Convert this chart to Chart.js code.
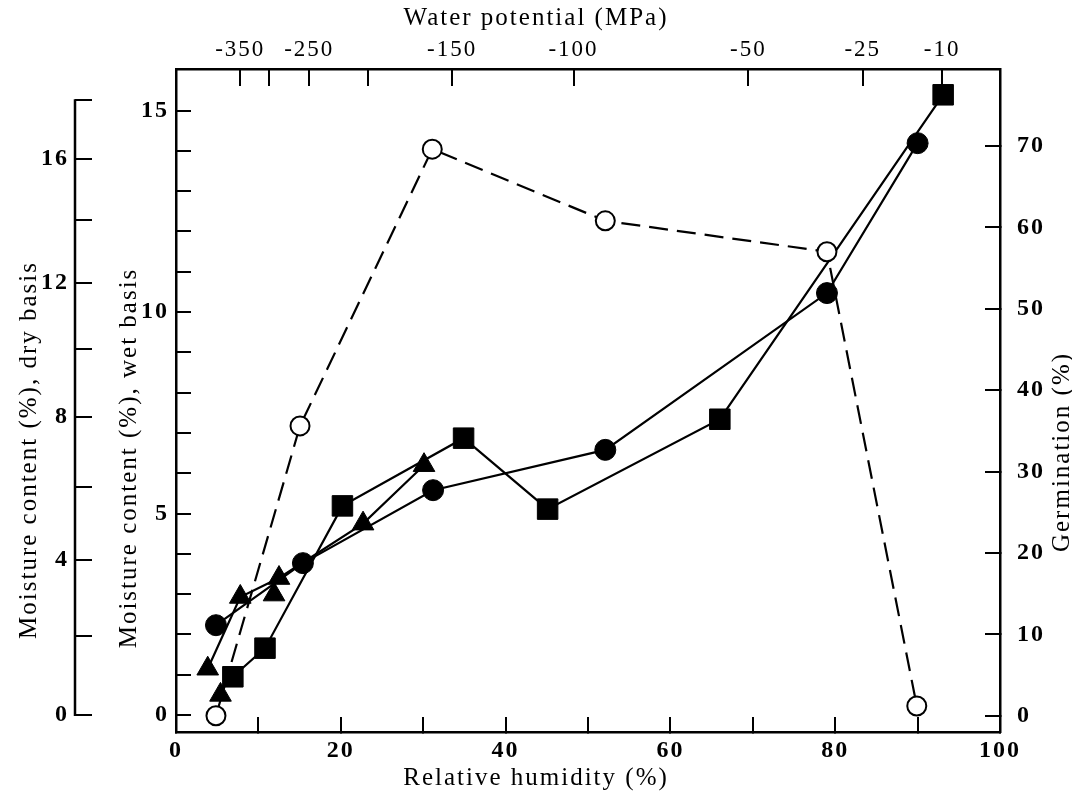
<!DOCTYPE html>
<html>
<head>
<meta charset="utf-8">
<title>Moisture content and germination vs relative humidity</title>
<script src="https://cdn.jsdelivr.net/npm/chart.js@4.4.1/dist/chart.umd.min.js"></script>
<style>
  html, body { margin: 0; padding: 0; background: #fff; }
  canvas { display: block; }
</style>
</head>
<body>
<canvas id="chart" width="1072" height="794"></canvas>
<script>
// values
const germinationRH = [4.85, 15.05, 31.1, 52.1, 79.0, 89.9];
const germinationPct = [0, 35.6, 69.6, 60.8, 57.0, 1.2];

const circleRH = [4.85, 15.4, 31.2, 52.1, 79.0, 90.0];
const circleWet = [2.23, 3.77, 5.58, 6.58, 10.47, 14.19];

const squareRH = [6.9, 10.8, 20.2, 34.9, 45.1, 66.0, 93.1];
const squareWet = [0.95, 1.66, 5.19, 6.87, 5.11, 7.34, 15.39];

const triangleRH = [3.85, 7.8, 12.5, 22.7, 30.1];
const triangleWet = [1.15, 2.93, 3.40, 4.75, 6.20];

const looseTriangleRH = [5.4, 11.9];
const looseTriangleWet = [0.50, 2.99];

// axis ticks
const humidityTicks = [0, 10, 20, 30, 40, 50, 60, 70, 80, 90, 100];
const wetTicks = [0, 1, 2, 3, 4, 5, 6, 7, 8, 9, 10, 11, 12, 13, 14, 15];
const dryTicks = [0, 2, 4, 6, 8, 10, 12, 14, 16, 18];
const germinationTicks = [0, 10, 20, 30, 40, 50, 60, 70];
const potentialTicks = [-350, -300, -250, -200, -150, -100, -50, -25, -10];
const potentialLabels = ['-350', '', '-250', '', '-150', '-100', '-50', '-25', '-10'];

const WET_MIN = -0.42;
const WET_MAX = 16.03;
const GERM_MIN = -2.0;
const GERM_MAX = 79.45;

const SERIF = '"Liberation Serif", "DejaVu Serif", serif';
const tickFont = { family: SERIF, size: 24, weight: 'bold' };
const topTickFont = { family: SERIF, size: 23, weight: 'normal' };
const titleFont = { family: SERIF, size: 25, weight: 'normal' };

const verticalTitles = [
  { text: 'Moisture content (%), dry basis', x: 29, y: 450 },
  { text: 'Moisture content (%), wet basis', x: 129, y: 458 },
  { text: 'Germination (%)', x: 1062, y: 452 },
];

// dry basis marks sit on the wet basis scale
function dryToWet(d) {
  return 100 * d / (100 + d);
}

// water potential (MPa) to relative humidity (%), Kelvin equation at ~25 C
function potentialToRH(p) {
  return 100 * Math.exp(p / 137.2);
}

function points(xs, ys) {
  return xs.map((x, i) => ({ x, y: ys[i] }));
}

function setTicks(values) {
  return scale => {
    scale.ticks = values.map(value => ({ value }));
  };
}

function grid(tickLength) {
  return { drawOnChartArea: false, drawTicks: true, tickLength, color: '#000', lineWidth: 2 };
}

const border = { display: true, color: '#000', width: 2.5 };

const spacing = {
  id: 'spacing',
  beforeLayout(chart) { chart.ctx.letterSpacing = '2px'; },
  beforeDraw(chart) { chart.ctx.letterSpacing = '2px'; },
};

const extras = {
  id: 'extras',
  afterDraw(chart) {
    const ctx = chart.ctx;
    const dry = chart.scales.yDry;
    ctx.save();
    ctx.strokeStyle = '#000';
    ctx.lineWidth = 2.5;
    ctx.beginPath();
    ctx.moveTo(dry.right, dry.getPixelForValue(dryToWet(dryTicks[0])) + 1);
    ctx.lineTo(dry.right, dry.getPixelForValue(dryToWet(dryTicks[dryTicks.length - 1])) - 1);
    ctx.stroke();

    ctx.fillStyle = '#000';
    ctx.font = `${titleFont.size}px ${SERIF}`;
    ctx.letterSpacing = '2px';
    ctx.textAlign = 'center';
    ctx.textBaseline = 'middle';
    verticalTitles.forEach(t => {
      ctx.save();
      ctx.translate(t.x, t.y);
      ctx.rotate(-Math.PI / 2);
      ctx.fillText(t.text, 0, 0);
      ctx.restore();
    });
    ctx.restore();
  },
};

const lineStyle = { showLine: true, borderColor: '#000', borderWidth: 2.2, pointBorderColor: '#000', pointBackgroundColor: '#000', pointBorderWidth: 1, xAxisID: 'x' };

new Chart(document.getElementById('chart'), {
  type: 'scatter',
  data: {
    datasets: [
      {
        ...lineStyle,
        label: 'Germination',
        data: points(germinationRH, germinationPct),
        yAxisID: 'yGerm',
        borderDash: [19, 9],
        pointStyle: 'circle',
        pointRadius: 9.5,
        pointBorderWidth: 2,
        pointBackgroundColor: '#fff',
      },
      { ...lineStyle, label: 'Circles', data: points(circleRH, circleWet), yAxisID: 'yWet', pointStyle: 'circle', pointRadius: 10.5 },
      { ...lineStyle, label: 'Squares', data: points(squareRH, squareWet), yAxisID: 'yWet', pointStyle: 'rect', pointRadius: 14.5 },
      { ...lineStyle, label: 'Triangles', data: points(triangleRH, triangleWet), yAxisID: 'yWet', pointStyle: 'triangle', pointRadius: 12.5 },
      { ...lineStyle, showLine: false, label: 'Triangles (single)', data: points(looseTriangleRH, looseTriangleWet), yAxisID: 'yWet', pointStyle: 'triangle', pointRadius: 12.5 },
    ],
  },
  options: {
    responsive: false,
    animation: false,
    devicePixelRatio: 1,
    layout: { padding: 0 },
    plugins: {
      legend: { display: false },
      tooltip: { enabled: false },
      title: { display: true, text: 'Water potential (MPa)', color: '#000', font: titleFont, padding: { top: 3, bottom: 0 } },
      subtitle: { display: true, position: 'bottom', text: 'Relative humidity (%)', color: '#000', font: titleFont, padding: { top: 0, bottom: 1 } },
    },
    scales: {
      x: {
        type: 'linear', position: 'bottom', min: 0, max: 100, bounds: 'data',
        afterBuildTicks: setTicks(humidityTicks),
        afterFit: s => { s.height = 31; },
        ticks: { autoSkip: false, maxRotation: 0, padding: 19, color: '#000', font: tickFont, callback: v => (v % 20 === 0 ? String(v) : '') },
        grid: grid(-15),
        border,
      },
      xTop: {
        type: 'linear', position: 'top', min: 0, max: 100, bounds: 'data',
        afterBuildTicks: scale => { scale.ticks = potentialTicks.map(p => ({ value: potentialToRH(p) })); },
        afterFit: s => { s.height = 36; },
        ticks: { autoSkip: false, maxRotation: 0, padding: 22, color: '#000', font: topTickFont, callback: (v, i) => potentialLabels[i] },
        grid: grid(-17),
        border,
      },
      yDry: {
        type: 'linear', position: 'left', weight: 10, min: WET_MIN, max: WET_MAX, bounds: 'data',
        afterBuildTicks: scale => { scale.ticks = dryTicks.map(d => ({ value: dryToWet(d) })); },
        afterFit: s => { s.width = 75; },
        ticks: { autoSkip: false, padding: 23, color: '#000', font: tickFont, callback: (v, i) => (dryTicks[i] % 4 === 0 && dryTicks[i] <= 16 ? String(dryTicks[i]) : '') },
        grid: grid(-17),
        border: { display: false },
      },
      yWet: {
        type: 'linear', position: 'left', weight: 0, min: WET_MIN, max: WET_MAX, bounds: 'data',
        afterBuildTicks: setTicks(wetTicks),
        afterFit: s => { s.width = 101; },
        ticks: { autoSkip: false, padding: 22, color: '#000', font: tickFont, callback: v => (v % 5 === 0 ? String(v) : '') },
        grid: grid(-15),
        border,
      },
      yGerm: {
        type: 'linear', position: 'right', min: GERM_MIN, max: GERM_MAX, bounds: 'data',
        afterBuildTicks: setTicks(germinationTicks),
        afterFit: s => { s.width = 72; },
        ticks: { autoSkip: false, padding: 32, color: '#000', font: tickFont },
        grid: grid(-15),
        border,
      },
    },
  },
  plugins: [spacing, extras],
});
</script>
</body>
</html>
